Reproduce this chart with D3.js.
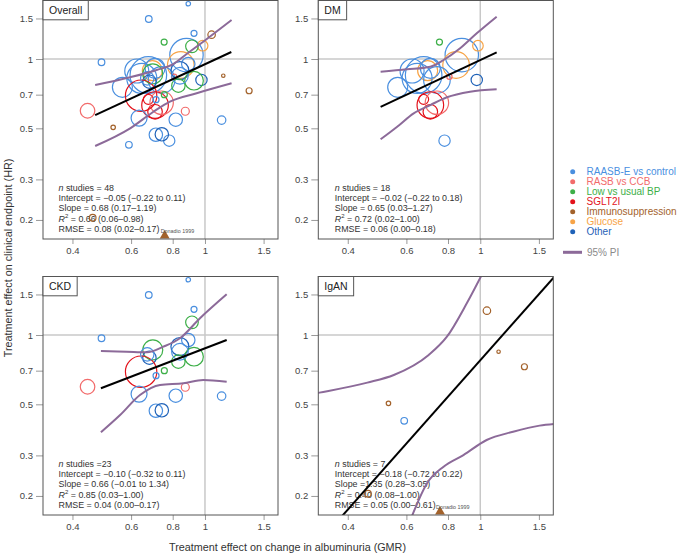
<!DOCTYPE html>
<html>
<head>
<meta charset="utf-8">
<script src="https://cdn.jsdelivr.net/npm/d3@7"></script>
<style>
  body { margin: 0; background: #fff; }
  svg { font-family: "Liberation Sans", Arial, sans-serif; }
</style>
</head>
<body>
<svg id="chart" width="685" height="553"></svg>
<script>
// study classes and colours
const classNames = ["RAASB-E vs control", "RASB vs CCB", "Low vs usual BP", "SGLT2I", "Immunosuppression", "Glucose", "Other"];
const classColors = ["#4a8fdf", "#f26b6b", "#3daf48", "#e3121b", "#a3622b", "#f7a447", "#1f62b8"];

// DM trials (GMR albuminuria, HR clinical endpoint, weight, class index)
const dmGMR    = [0.754, 0.880, 0.984, 0.846, 0.695, 0.676, 0.708, 0.741, 0.646, 0.565, 0.624, 0.976, 0.808, 0.676, 0.708, 0.708, 0.741, 0.781];
const dmHR     = [1.185, 1.040, 1.142, 0.942, 0.890, 0.852, 0.911, 0.811, 0.824, 0.753, 0.887, 0.811, 0.838, 0.668, 0.631, 0.590, 0.646, 0.442];
const dmWeight = [9, 279, 28, 177, 100, 335, 100, 177, 225, 100, 144, 32, 7, 25, 177, 53, 137, 32];
const dmClass  = [2, 0, 5, 5, 5, 0, 0, 0, 0, 0, 0, 6, 1, 3, 3, 3, 1, 0];

// CKD trials
const ckdGMR    = [0.891, 0.678, 0.927, 0.914, 0.489, 0.891, 0.841, 0.697, 0.927, 0.832, 0.681, 0.755, 0.643, 0.713, 0.444, 0.873, 0.634, 0.817, 1.122, 0.712, 0.742, 0.841, 0.671];
const ckdHR     = [1.738, 1.492, 1.293, 1.135, 0.968, 0.951, 0.890, 0.861, 0.805, 0.766, 0.797, 0.700, 0.693, 0.666, 0.596, 0.593, 0.554, 0.545, 0.543, 0.469, 0.471, 0.846, 0.824];
const ckdWeight = [5, 11, 9, 40, 11, 45, 81, 100, 87, 45, 45, 9, 246, 9, 53, 16, 64, 45, 18, 45, 45, 69, 45];
const ckdClass  = [0, 0, 0, 2, 0, 0, 6, 2, 2, 2, 6, 2, 3, 0, 1, 1, 0, 0, 0, 0, 6, 0, 0];

// IgAN trials
const iganGMR    = [1.047, 1.135, 1.357, 0.530, 0.591, 0.460];
const iganHR     = [1.275, 0.846, 0.728, 0.505, 0.424, 0.2045];
const iganWeight = [14, 3, 9, 5, 11, 11];
const iganClass  = [4, 4, 4, 4, 0, 4];

// trial with HR below the plotted range
const offLabel = ["Donadio 1999"];
const offGMR   = [0.757];
const offClass = [4];

// panels
const panelNames = ["Overall", "DM", "CKD", "IgAN"];

// regression lines (log HR = a + b log GMR)
const regIntercept = [-0.052, -0.01, -0.133, -0.253];
const regSlope     = [0.67, 0.68, 0.555, 1.63];
const regXmin      = [0.468, 0.502, 0.487, 0.30];
const regXmax      = [1.20, 1.12, 1.162, 1.80];

// 95% prediction interval curves
const piUpperX = [
  [0.468, 0.596, 0.716, 0.803, 0.881, 0.988, 1.202],
  [0.502, 0.603, 0.708, 0.776, 0.870, 0.976, 1.12],
  [0.487, 0.582, 0.669, 0.750, 0.841, 0.966, 1.162],
  [0.30, 0.329, 0.458, 0.550, 0.700, 0.794, 0.911, 1.01]
];
const piUpperY = [
  [0.771, 0.833, 0.896, 0.951, 1.051, 1.189, 1.477],
  [0.881, 0.902, 0.926, 0.990, 1.113, 1.293, 1.527],
  [0.852, 0.846, 0.841, 0.890, 0.968, 1.182, 1.502],
  [0.548, 0.562, 0.621, 0.670, 0.819, 0.983, 1.373, 1.822]
];
const piLowerX = [
  [0.468, 0.596, 0.700, 0.785, 0.944, 1.202],
  [0.502, 0.563, 0.631, 0.708, 0.794, 0.932, 1.12],
  [0.487, 0.556, 0.638, 0.733, 0.861, 0.988, 1.162],
  [0.624, 0.692, 0.776, 0.890, 1.045, 1.255, 1.507, 1.70]
];
const piLowerY = [
  [0.419, 0.500, 0.590, 0.653, 0.710, 0.784],
  [0.448, 0.508, 0.581, 0.631, 0.682, 0.721, 0.739],
  [0.378, 0.449, 0.549, 0.607, 0.617, 0.638, 0.627],
  [0.164, 0.227, 0.268, 0.301, 0.350, 0.380, 0.404, 0.412]
];

// fit statistics
const statN         = ["48", "18", "23", "7"];
const statNSep      = [" = ", " = ", " =", " = "];
const statIntercept = ["−0.05 (−0.22 to 0.11)", "−0.02 (−0.22 to 0.18)", "−0.10 (−0.32 to 0.11)", "−0.18 (−0.72 to 0.22)"];
const statSlope     = ["= 0.68 (0.17–1.19)", "= 0.65 (0.03–1.27)", "= 0.66 (−0.01 to 1.34)", "=1.35 (0.28–3.05)"];
const statR2        = ["0.66 (0.06–0.98)", "0.72 (0.02–1.00)", "0.85 (0.03–1.00)", "0.40 (0.08–1.00)"];
const statRMSE      = ["0.08 (0.02–0.17)", "0.06 (0.00–0.18)", "0.04 (0.00–0.17)", "0.05 (0.00–0.61)"];

const xTicks = [0.4, 0.6, 0.8, 1, 1.5];
const yTicks = [0.2, 0.3, 0.5, 0.7, 1, 1.5];

function rows(gmr, hr, w, cls) {
  return gmr.map((g, i) => ({ gmr: g, hr: hr[i], w: w[i], cls: cls[i] }));
}
const dmRows = rows(dmGMR, dmHR, dmWeight, dmClass);
const ckdRows = rows(ckdGMR, ckdHR, ckdWeight, ckdClass);
const iganRows = rows(iganGMR, iganHR, iganWeight, iganClass);
const panelRows = [dmRows.concat(ckdRows, iganRows), dmRows, ckdRows, iganRows];
const panelHasOff = [true, false, false, true];

const svg = d3.select("#chart");
const W = 235, H = 239;
const lefts = [43, 318.3, 43, 318.3];
const tops = [0, 0, 276, 276];
const PI_COLOR = "#8c6a99";

const x = d3.scaleLog().domain([Math.exp(-1.12), Math.exp(0.505)]).range([0, W]);
const y = d3.scaleLog().domain([Math.exp(-1.80), Math.exp(0.59)]).range([H, 0]);
const r = d3.scaleSqrt().domain([0, 400]).range([0, 20]);

const line = d3.line().x(d => x(d[0])).y(d => y(d[1])).curve(d3.curveMonotoneX);

panelNames.forEach((name, p) => {
  const g = svg.append("g").attr("transform", `translate(${lefts[p]},${tops[p]})`);

  g.append("clipPath").attr("id", "clip" + p)
    .append("rect").attr("width", W).attr("height", H);

  // reference lines at 1
  g.append("line").attr("x1", x(1)).attr("x2", x(1)).attr("y1", 0).attr("y2", H)
    .attr("stroke", "#c8c8c8").attr("stroke-width", 1.5);
  g.append("line").attr("x1", 0).attr("x2", W).attr("y1", y(1)).attr("y2", y(1))
    .attr("stroke", "#c8c8c8").attr("stroke-width", 1.5);

  // axes
  const xa = g.append("g").attr("transform", `translate(0,${H})`)
    .call(d3.axisBottom(x).tickValues(xTicks).tickFormat(d3.format("")).tickSize(5).tickPadding(3));
  const ya = g.append("g")
    .call(d3.axisLeft(y).tickValues(yTicks).tickFormat(d3.format("")).tickSize(7).tickPadding(3));
  [xa, ya].forEach(a => {
    a.select(".domain").remove();
    a.selectAll(".tick line").attr("stroke", "#9a9a9a");
    a.selectAll(".tick text").attr("fill", "#444").style("font-size", "9.5px");
  });

  // stats
  const st = g.append("text").attr("fill", "#333").style("font-size", "8.9px");
  const sx = p % 2 === 0 ? 15.5 : 16.5;
  const base = 190.8, step = 10.3;
  let t = st.append("tspan").attr("x", sx).attr("y", base);
  t.append("tspan").attr("font-style", "italic").text("n");
  t.append("tspan").text(" studies" + statNSep[p] + statN[p]);
  st.append("tspan").attr("x", sx).attr("y", base + step).text("Intercept = " + statIntercept[p]);
  st.append("tspan").attr("x", sx).attr("y", base + 2 * step).text("Slope " + statSlope[p]);
  t = st.append("tspan").attr("x", sx).attr("y", base + 3 * step);
  t.append("tspan").attr("font-style", "italic").text("R");
  t.append("tspan").attr("dy", -3.5).style("font-size", "6px").text("2");
  t.append("tspan").attr("dy", 3.5).text(" = " + statR2[p]);
  st.append("tspan").attr("x", sx).attr("y", base + 4 * step).text("RMSE = " + statRMSE[p]);

  const plot = g.append("g").attr("clip-path", `url(#clip${p})`);

  // study circles
  plot.selectAll("circle.study")
    .data(panelRows[p])
    .join("circle")
    .attr("class", "study")
    .attr("cx", d => x(d.gmr))
    .attr("cy", d => y(d.hr))
    .attr("r", d => r(d.w))
    .attr("fill", "none")
    .attr("stroke", d => classColors[d.cls])
    .attr("stroke-width", 1.2);

  // prediction interval
  [[piUpperX[p], piUpperY[p]], [piLowerX[p], piLowerY[p]]].forEach(([xs, ys]) => {
    plot.append("path")
      .datum(xs.map((v, i) => [v, ys[i]]))
      .attr("d", line)
      .attr("fill", "none")
      .attr("stroke", PI_COLOR)
      .attr("stroke-width", 2);
  });

  // regression line
  const reg = [regXmin[p], regXmax[p]].map(v => [v, Math.exp(regIntercept[p] + regSlope[p] * Math.log(v))]);
  plot.append("path").datum(reg)
    .attr("d", d3.line().x(d => x(d[0])).y(d => y(d[1])))
    .attr("stroke", "#000").attr("stroke-width", 2).attr("fill", "none");

  // off-scale trial
  if (panelHasOff[p]) {
    offGMR.forEach((v, i) => {
      g.append("path")
        .attr("d", d3.symbol().type(d3.symbolTriangle).size(42)())
        .attr("transform", `translate(${x(v)},${H - 3.3})`)
        .attr("fill", classColors[offClass[i]]);
      g.append("text")
        .attr("x", x(v) - 4).attr("y", H - 6.5)
        .attr("fill", "#555").style("font-size", "5.4px")
        .text(offLabel[i]);
    });
  }

  // frame
  g.append("rect").attr("x", 0).attr("y", 0.5).attr("width", W).attr("height", H - 0.5)
    .attr("fill", "none").attr("stroke", "#555").attr("stroke-width", 1);

  // panel label
  const labBox = g.append("rect")
    .attr("x", 0).attr("y", 0.5).attr("height", 19.3)
    .attr("fill", "#fff").attr("stroke", "#555").attr("stroke-width", 1);
  const lab = g.append("text").attr("x", 6).attr("y", 13.6)
    .attr("fill", "#222").style("font-size", "10.5px").text(name);
  labBox.attr("width", lab.node().getComputedTextLength() + 12);
});

// axis titles
svg.append("text")
  .attr("x", 287.5).attr("y", 550.5).attr("text-anchor", "middle")
  .attr("fill", "#333").style("font-size", "10.8px")
  .text("Treatment effect on change in albuminuria (GMR)");
svg.append("text")
  .attr("transform", "translate(11.5,258) rotate(-90)").attr("text-anchor", "middle")
  .attr("fill", "#333").style("font-size", "10.8px")
  .text("Treatment effect on clinical endpoint (HR)");

// legend
const leg = svg.append("g");
classNames.forEach((c, i) => {
  const cy = 171.7 + i * 10;
  leg.append("circle").attr("cx", 572.7).attr("cy", cy).attr("r", 2.5).attr("fill", classColors[i]);
  leg.append("text").attr("x", 586.5).attr("y", cy + 3.5)
    .attr("fill", classColors[i]).style("font-size", "10px").text(c);
});
leg.append("line").attr("x1", 563).attr("x2", 582).attr("y1", 252.3).attr("y2", 252.3)
  .attr("stroke", PI_COLOR).attr("stroke-width", 3);
leg.append("text").attr("x", 587).attr("y", 255.8)
  .attr("fill", "#8a8a8a").style("font-size", "10px").text("95% PI");
</script>
</body>
</html>
